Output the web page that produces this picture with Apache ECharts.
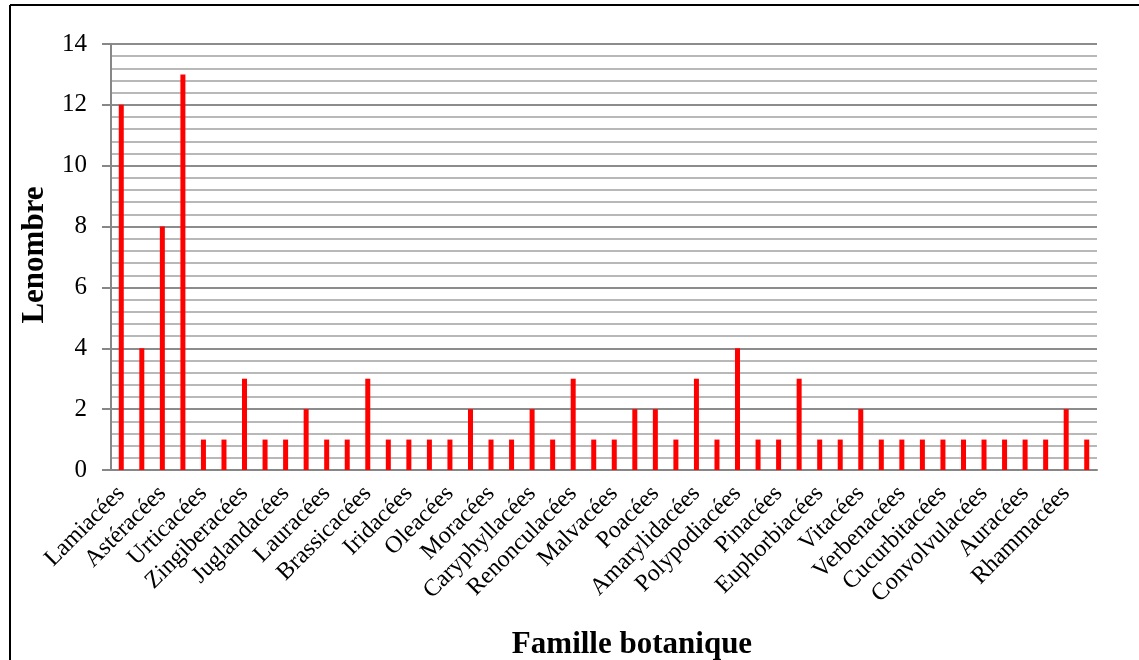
<!DOCTYPE html>
<html>
<head>
<meta charset="utf-8">
<script src="https://cdn.jsdelivr.net/npm/echarts@6/dist/echarts.min.js"></script>
<style>
  html, body { margin: 0; padding: 0; background: #fff; }
  #chart { width: 1139px; height: 660px; }
</style>
</head>
<body>
<div id="chart"></div>
<script>
// Botanical families (every second family carries a printed label)
const familles = [
  'Lamiacées', '', 'Astéracées', '', 'Urticacées', '', 'Zingiberacées', '',
  'Juglandacées', '', 'Lauracées', '', 'Brassicacées', '', 'Iridacées', '',
  'Oleacées', '', 'Moracées', '', 'Caryphyllacées', '', 'Renonculacées', '',
  'Malvacées', '', 'Poacées', '', 'Amarylidacées', '', 'Polypodiacées', '',
  'Pinacées', '', 'Euphorbiacées', '', 'Vitacées', '', 'Verbenacées', '',
  'Cucurbitacées', '', 'Convolvulacées', '', 'Auracées', '', 'Rhammacées', ''
];

// Number of species per family
const nombres = [
  12, 4, 8, 13, 1, 1, 3, 1,
  1, 2, 1, 1, 3, 1, 1, 1,
  1, 2, 1, 1, 2, 1, 3, 1,
  1, 2, 2, 1, 3, 1, 4, 1,
  1, 3, 1, 1, 2, 1, 1, 1,
  1, 1, 1, 1, 1, 1, 2, 1
];

const yTicks = [0, 2, 4, 6, 8, 10, 12, 14];

const titreY = 'Lenombre';
const titreX = 'Famille botanique';

const chart = echarts.init(document.getElementById('chart'), null, { renderer: 'canvas' });

const labelFont = "'Liberation Serif', 'DejaVu Serif', serif";

chart.setOption({
  animation: false,
  backgroundColor: '#ffffff',
  grid: { left: 111, right: 42, top: 44, bottom: 190, containLabel: false },
  xAxis: {
    type: 'category',
    data: familles,
    boundaryGap: true,
    axisLine: { lineStyle: { color: '#878787', width: 2 } },
    axisTick: { show: false },
    axisLabel: {
      interval: 0,
      rotate: 45,
      margin: 20,
      color: '#000',
      fontFamily: labelFont,
      fontSize: 24
    },
    splitLine: { show: false }
  },
  yAxis: {
    type: 'value',
    min: yTicks[0],
    max: yTicks[yTicks.length - 1],
    interval: 2,
    axisLine: { show: true, lineStyle: { color: '#878787', width: 2 } },
    axisTick: { show: true, length: 9, inside: false, lineStyle: { color: '#878787', width: 2 } },
    axisLabel: {
      margin: 24,
      color: '#000',
      fontFamily: labelFont,
      fontSize: 25
    },
    splitLine: { show: true, lineStyle: { color: '#8c8c8c', width: 2 } },
    minorTick: { show: false, splitNumber: 5 },
    minorSplitLine: { show: true, lineStyle: { color: '#b8b8b8', width: 2 } }
  },
  series: [{
    type: 'bar',
    data: nombres,
    barWidth: 5,
    itemStyle: { color: '#ff0000' },
    z: 3
  }],
  graphic: [
    // frame edges along top and left
    { type: 'line', shape: { x1: 10, y1: 5, x2: 1139, y2: 5 }, style: { stroke: '#000', lineWidth: 2 } },
    { type: 'line', shape: { x1: 10, y1: 5, x2: 10, y2: 660 }, style: { stroke: '#000', lineWidth: 2 } },
    {
      type: 'text',
      x: 35, y: 255,
      rotation: Math.PI / 2,
      style: {
        text: titreY,
        fontFamily: "'Liberation Serif', 'Times New Roman', serif",
        fontWeight: 'bold',
        fontSize: 31,
        fill: '#000',
        align: 'center',
        verticalAlign: 'middle'
      }
    },
    {
      type: 'text',
      x: 632, y: 645,
      style: {
        text: titreX,
        fontFamily: "'Liberation Serif', 'Times New Roman', serif",
        fontWeight: 'bold',
        fontSize: 31,
        fill: '#000',
        align: 'center',
        verticalAlign: 'middle'
      }
    }
  ]
});
</script>
</body>
</html>
